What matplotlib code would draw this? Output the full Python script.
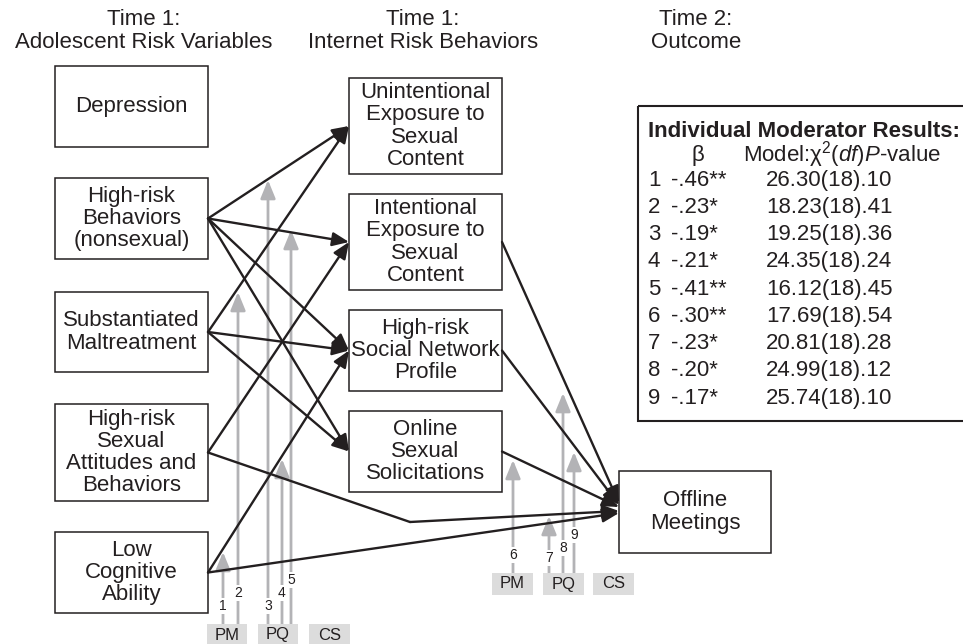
import matplotlib
matplotlib.use("Agg")
import matplotlib.pyplot as plt
from matplotlib.patches import Rectangle, FancyArrowPatch

plt.rcParams['font.family'] = ['Liberation Sans', 'DejaVu Sans']
plt.rcParams['mathtext.fontset'] = 'custom'
plt.rcParams['mathtext.rm'] = 'Liberation Sans'
plt.rcParams['mathtext.it'] = 'Liberation Sans:italic'

INK = '#231f20'
GRAY = '#b3b3b6'
LABEL_BG = '#dcdcdc'

# ---- data ----
headers = ["Time 1:\nAdolescent Risk Variables",
           "Time 1:\nInternet Risk Behaviors",
           "Time 2:\nOutcome"]
risk_keys = ["dep", "hrb", "mal", "sex", "cog"]
risk_labels = ["Depression",
               "High-risk\nBehaviors\n(nonsexual)",
               "Substantiated\nMaltreatment",
               "High-risk\nSexual\nAttitudes and\nBehaviors",
               "Low\nCognitive\nAbility"]
net_keys = ["unint", "int", "snp", "sol"]
net_labels = ["Unintentional\nExposure to\nSexual\nContent",
              "Intentional\nExposure to\nSexual\nContent",
              "High-risk\nSocial Network\nProfile",
              "Online\nSexual\nSolicitations"]
outcome_key = "off"
outcome_label = "Offline\nMeetings"

paths = [("hrb", "unint"), ("hrb", "int"), ("hrb", "snp"), ("hrb", "sol"),
         ("mal", "unint"), ("mal", "snp"), ("mal", "sol"),
         ("sex", "int"), ("sex", "off"),
         ("cog", "snp"), ("cog", "off"),
         ("int", "off"), ("snp", "off"), ("sol", "off")]

mod_num = [1, 2, 3, 4, 5, 6, 7, 8, 9]
mod_beta = ["-.46**", "-.23*", "-.19*", "-.21*", "-.41**", "-.30**", "-.23*", "-.20*", "-.17*"]
mod_chi2 = ["26.30", "18.23", "19.25", "24.35", "16.12", "17.69", "20.81", "24.99", "25.74"]
mod_df = 18
mod_p = [".10", ".41", ".36", ".24", ".45", ".54", ".28", ".12", ".10"]
mod_type = ["PM", "PM", "PQ", "PQ", "PQ", "PM", "PQ", "PQ", "PQ"]
type_labels = ["PM", "PQ", "CS"]

# ---- layout (pixel coordinates, y down) ----
boxes = {
    'dep': (55, 66, 208, 147), 'hrb': (55, 178, 208, 259),
    'mal': (55, 292, 208, 372), 'sex': (55, 404, 208, 501),
    'cog': (55, 532, 208, 613),
    'unint': (349, 78, 502, 174), 'int': (349, 194, 502, 290),
    'snp': (349, 310, 502, 391), 'sol': (349, 411, 502, 492),
    'off': (619, 471, 771, 553),
}
header_pos = [(144, 31), (423, 31), (696, 31)]
off_entry = {'int': 503, 'snp': 505, 'sol': 507, 'sex': 511, 'cog': 513}
sex_bend = (410, 522)

mod_x = [223, 238, 268, 282, 291, 513, 549, 563, 574]
mod_tip = [552, 292, 180, 459, 230, 460, 516, 393, 452]
mod_lab_y = [606, 593, 606, 593, 580, 555, 558, 548, 535]
group_base = {'left': 624, 'right': 573}
label_boxes = {'left': [(207, 247), (258, 298), (309, 350)],
               'right': [(492, 533), (543, 584), (593, 634)]}
label_h = {'left': 24, 'right': 22}

fig = plt.figure(figsize=(9.63, 6.44), dpi=100)
ax = fig.add_axes([0, 0, 1, 1])
ax.set_xlim(0, 963)
ax.set_ylim(644, 0)
ax.axis('off')

FS = 16

for (x, y), h in zip(header_pos, headers):
    ax.text(x, y, h, ha='center', va='center', fontsize=FS, color=INK, linespacing=1.1)


def draw_box(key, label):
    x0, y0, x1, y1 = boxes[key]
    ax.add_patch(Rectangle((x0, y0), x1 - x0, y1 - y0, fill=False, ec=INK, lw=1.1, zorder=3))
    ax.text((x0 + x1) / 2, (y0 + y1) / 2, label, ha='center', va='center',
            fontsize=FS, color=INK, linespacing=1.07, zorder=4)


for k, l in zip(risk_keys, risk_labels):
    draw_box(k, l)
for k, l in zip(net_keys, net_labels):
    draw_box(k, l)
draw_box(outcome_key, outcome_label)


def right_mid(k):
    x0, y0, x1, y1 = boxes[k]
    return (x1, (y0 + y1) / 2)


def left_mid(k):
    x0, y0, x1, y1 = boxes[k]
    return (x0, (y0 + y1) / 2)


astyle = '-|>,head_length=1.0,head_width=0.42'
for src, dst in paths:
    a = right_mid(src)
    if dst == outcome_key:
        b = (boxes[dst][0], off_entry[src])
    else:
        b = left_mid(dst)
    if src == 'sex' and dst == outcome_key:
        ax.plot([a[0], sex_bend[0]], [a[1], sex_bend[1]], color=INK, lw=1.7,
                solid_capstyle='round', zorder=2)
        a = sex_bend
    ax.add_patch(FancyArrowPatch(a, b, arrowstyle=astyle, mutation_scale=10,
                                 color=INK, lw=1.7, shrinkA=0, shrinkB=0, zorder=2))

# moderator arrows
for n, x, tip, ly, t in zip(mod_num, mod_x, mod_tip, mod_lab_y, mod_type):
    side = 'left' if n <= 5 else 'right'
    base = group_base[side]
    ax.add_patch(FancyArrowPatch((x, base), (x, tip), arrowstyle='-|>,head_length=1.1,head_width=0.45',
                                 mutation_scale=10, color=GRAY, lw=2.0, shrinkA=0, shrinkB=0, zorder=1))
    ax.text(x, ly, str(n), ha='center', va='center', fontsize=10, color=INK, zorder=5,
            bbox=dict(boxstyle='square,pad=0.05', fc='white', ec='none'))

for side in ['left', 'right']:
    top = group_base[side]
    for (x0, x1), t in zip(label_boxes[side], type_labels):
        ax.add_patch(Rectangle((x0, top), x1 - x0, label_h[side], fc=LABEL_BG, ec='none', zorder=4))
        ax.text((x0 + x1) / 2, top + 11, t, ha='center', va='center', fontsize=12, color=INK, zorder=5)

# moderator results table
ax.add_patch(Rectangle((638, 106), 340, 315, fill=False, ec=INK, lw=1.5, zorder=3))
ax.text(648, 131, "Individual Moderator Results:", ha='left', va='center',
        fontsize=FS, fontweight='bold', color=INK)
ax.text(698, 155, "\u03b2", ha='center', va='center', fontsize=FS, color=INK)
ax.text(743, 155, r"Model:$\mathrm{\chi}^{2}\mathit{(df)P}$-value", ha='left', va='center',
        fontsize=FS, color=INK)
for i, (n, b, c, p) in enumerate(zip(mod_num, mod_beta, mod_chi2, mod_p)):
    y = 180 + i * 27.25
    ax.text(648, y, str(n), ha='left', va='center', fontsize=FS, color=INK)
    ax.text(671, y, b, ha='left', va='center', fontsize=FS, color=INK)
    ax.text(766, y, f"{c}({mod_df}){p}", ha='left', va='center', fontsize=FS, color=INK)

fig.savefig("out.png", dpi=100, facecolor='white')
